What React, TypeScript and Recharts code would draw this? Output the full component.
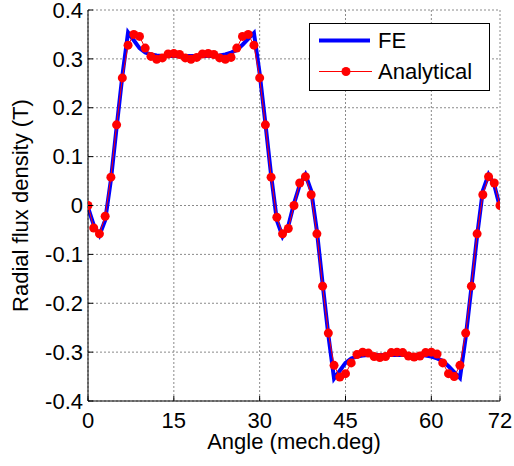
import React from 'react';
import {
  LineChart,
  Line,
  XAxis,
  YAxis,
  CartesianGrid,
  Legend,
} from 'recharts';

const angles = [
  0, 1, 2, 3, 4, 5, 6, 7, 8, 9, 10, 11, 12, 13, 14, 15, 16, 17, 18, 19, 20, 21, 22, 23, 24,
  25, 26, 27, 28, 29, 30, 31, 32, 33, 34, 35, 36, 37, 38, 39, 40, 41, 42, 43, 44, 45, 46, 47, 48,
  49, 50, 51, 52, 53, 54, 55, 56, 57, 58, 59, 60, 61, 62, 63, 64, 65, 66, 67, 68, 69, 70, 71, 72,
];

const feValues = [
  -0.004, -0.04, -0.061, -0.03, 0.052, 0.16, 0.265, 0.354, 0.338, 0.322, 0.313, 0.309, 0.307,
  0.306, 0.306, 0.306, 0.306, 0.306, 0.306, 0.306, 0.306, 0.306, 0.306, 0.307, 0.309, 0.313,
  0.318, 0.329, 0.341, 0.353, 0.27, 0.168, 0.062, -0.03, -0.063, -0.042, 0.004, 0.042, 0.063,
  0.03, -0.052, -0.16, -0.265, -0.354, -0.338, -0.322, -0.313, -0.309, -0.307, -0.306, -0.306,
  -0.306, -0.306, -0.306, -0.306, -0.306, -0.306, -0.306, -0.306, -0.307, -0.309, -0.313,
  -0.318, -0.329, -0.341, -0.353, -0.27, -0.168, -0.062, 0.03, 0.063, 0.042, -0.004,
];

const analyticalValues = [
  0, -0.046, -0.058, -0.022, 0.058, 0.165, 0.261, 0.328, 0.35, 0.346, 0.322, 0.305, 0.299,
  0.302, 0.31, 0.311, 0.309, 0.302, 0.299, 0.303, 0.31, 0.311, 0.309, 0.302, 0.299, 0.303,
  0.322, 0.346, 0.35, 0.328, 0.261, 0.165, 0.058, -0.024, -0.058, -0.047, 0, 0.046, 0.059,
  0.022, -0.058, -0.165, -0.261, -0.327, -0.351, -0.344, -0.322, -0.305, -0.3, -0.302, -0.309,
  -0.311, -0.309, -0.301, -0.3, -0.301, -0.308, -0.31, -0.308, -0.301, -0.3, -0.304, -0.322,
  -0.344, -0.35, -0.327, -0.261, -0.165, -0.058, 0.022, 0.059, 0.046, 0,
];

const xTicks = [0, 15, 30, 45, 60, 72];
const yTicks = [-0.4, -0.3, -0.2, -0.1, 0, 0.1, 0.2, 0.3, 0.4];

const seriesNames = { fe: 'FE', analytical: 'Analytical' };
const xLabel = 'Angle (mech.deg)';
const yLabel = 'Radial flux density (T)';

const data = angles.map((a, i) => ({
  angle: a,
  fe: feValues[i],
  analytical: analyticalValues[i],
}));

const FONT = '"Liberation Sans", Arial, Helvetica, sans-serif';
const FS = 22;

const fmtY = (v: number) => (Math.abs(v) < 1e-9 ? '0' : v.toFixed(1));

const LeftTick = (props: any) => {
  const { x, y, payload } = props;
  return (
    <g>
      <line x1={x + 5} x2={x + 10} y1={y} y2={y} stroke="#000" strokeWidth={1} />
      <text x={x} y={y} dy="0.35em" textAnchor="end" fontFamily={FONT} fontSize={FS} fill="#000">
        {fmtY(payload.value)}
      </text>
    </g>
  );
};

const BottomTick = (props: any) => {
  const { x, y, payload } = props;
  return (
    <g>
      <line x1={x} x2={x} y1={y - 11} y2={y - 16} stroke="#000" strokeWidth={1} />
      <text x={x} y={y} dy="0.71em" textAnchor="middle" fontFamily={FONT} fontSize={FS} fill="#000">
        {String(payload.value)}
      </text>
    </g>
  );
};

const TopTick = (props: any) => {
  const { x, y } = props;
  return <line x1={x} x2={x} y1={y} y2={y + 5} stroke="#000" strokeWidth={1} />;
};

const RightTick = (props: any) => {
  const { x, y } = props;
  return <line x1={x - 5} x2={x} y1={y} y2={y} stroke="#000" strokeWidth={1} />;
};

const YLabel = (props: any) => {
  const vb = props.viewBox || { x: 0, y: 0, width: 0, height: 0 };
  const cx = vb.x + 20;
  const cy = vb.y + vb.height / 2;
  return (
    <text
      x={cx}
      y={cy}
      transform={`rotate(-90, ${cx}, ${cy})`}
      textAnchor="middle"
      dy="0.35em"
      fontFamily={FONT}
      fontSize={FS}
      fill="#000"
    >
      {yLabel}
    </text>
  );
};

const XLabel = (props: any) => {
  const vb = props.viewBox || { x: 0, y: 0, width: 0, height: 0 };
  const cx = vb.x + vb.width / 2;
  const cy = vb.y + 40;
  return (
    <text x={cx} y={cy} dy="0.35em" textAnchor="middle" fontFamily={FONT} fontSize={FS} fill="#000">
      {xLabel}
    </text>
  );
};

const LegendBox = () => (
  <svg width={181} height={68} style={{ display: 'block' }}>
    <rect x={0.5} y={0.5} width={180} height={67} fill="#fff" stroke="#000" strokeWidth={1} />
    <line x1={10} x2={61} y1={17.5} y2={17.5} stroke="#0000ff" strokeWidth={4} />
    <text x={69} y={17.5} dy="0.35em" fontFamily={FONT} fontSize={FS} fill="#000">
      {seriesNames.fe}
    </text>
    <line x1={10} x2={63} y1={48.5} y2={48.5} stroke="#ff0000" strokeWidth={1} />
    <circle cx={37} cy={48.5} r={4.5} fill="#ff0000" />
    <text x={69} y={48.5} dy="0.35em" fontFamily={FONT} fontSize={FS} fill="#000">
      {seriesNames.analytical}
    </text>
  </svg>
);

export default function App() {
  return (
    <div style={{ position: 'absolute', left: 0, top: 0, width: 514, height: 466, background: '#fff' }}>
      <LineChart
        width={514}
        height={466}
        data={data}
        margin={{ top: 10, right: 14, bottom: 0, left: 0 }}
      >
        <CartesianGrid stroke="#8a8a8a" strokeDasharray="2 2" strokeWidth={1} />
        <XAxis
          dataKey="angle"
          type="number"
          domain={[0, 72]}
          ticks={xTicks}
          allowDataOverflow
          height={65}
          tickSize={0}
          tickMargin={11}
          tickLine={false}
          axisLine={{ stroke: '#000', strokeWidth: 1 }}
          tick={<BottomTick />}
          label={<XLabel />}
        />
        <XAxis
          xAxisId="top"
          orientation="top"
          dataKey="angle"
          type="number"
          domain={[0, 72]}
          ticks={xTicks}
          height={0}
          tickSize={0}
          tickMargin={0}
          tickLine={false}
          axisLine={{ stroke: '#000', strokeWidth: 1 }}
          tick={<TopTick />}
        />
        <YAxis
          type="number"
          domain={[-0.4, 0.4]}
          ticks={yTicks}
          allowDataOverflow
          width={88}
          tickSize={0}
          tickMargin={5}
          tickLine={false}
          axisLine={{ stroke: '#000', strokeWidth: 1 }}
          tick={<LeftTick />}
          label={<YLabel />}
        />
        <YAxis
          yAxisId="right"
          orientation="right"
          type="number"
          domain={[-0.4, 0.4]}
          ticks={yTicks}
          width={0}
          tickSize={0}
          tickMargin={0}
          tickLine={false}
          axisLine={{ stroke: '#000', strokeWidth: 1 }}
          tick={<RightTick />}
        />
        <Legend
          layout="horizontal"
          verticalAlign="middle"
          align="center"
          wrapperStyle={{ left: 309, top: 23, width: 181, height: 68 }}
          content={() => <LegendBox />}
        />
        <Line
          type="linear"
          dataKey="fe"
          name={seriesNames.fe}
          stroke="#0000ff"
          strokeWidth={4}
          dot={false}
          activeDot={false}
          isAnimationActive={false}
        />
        <Line
          type="linear"
          dataKey="analytical"
          name={seriesNames.analytical}
          stroke="#ff0000"
          strokeWidth={1}
          dot={{ r: 4.5, fill: '#ff0000', stroke: 'none' }}
          activeDot={false}
          isAnimationActive={false}
        />
      </LineChart>
    </div>
  );
}
